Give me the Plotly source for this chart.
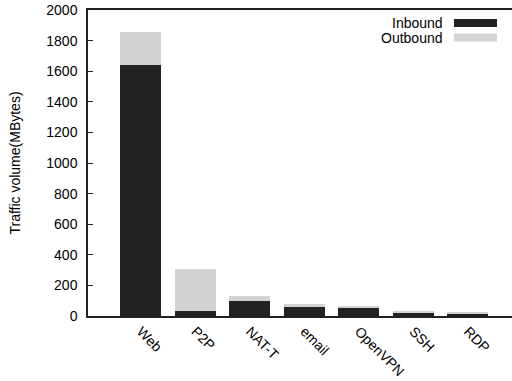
import plotly.graph_objects as go

# Traffic per application class, in MBytes
apps = ["Web", "P2P", "NAT-T", "email", "OpenVPN", "SSH", "RDP"]
inbound = [1640, 30, 95, 58, 55, 20, 16]
outbound = [216, 277, 33, 18, 12, 12, 10]
y_ticks = list(range(0, 2001, 200))

DARK = "#222222"
LIGHT = "#d3d3d3"
FONT = "Liberation Sans, Arial, Helvetica, sans-serif"

fig = go.Figure()
fig.add_trace(go.Bar(x=apps, y=inbound, name="Inbound",
                     marker=dict(color=DARK, line=dict(width=0))))
fig.add_trace(go.Bar(x=apps, y=outbound, name="Outbound",
                     marker=dict(color=LIGHT, line=dict(width=0))))

fig.update_layout(
    width=512, height=381,
    margin=dict(l=88, r=0, t=10, b=65),
    barmode="stack", bargap=0.25,
    showlegend=False,
    plot_bgcolor="white", paper_bgcolor="white",
    font=dict(family=FONT, size=14, color="#000000"),
    xaxis=dict(
        range=[-0.97, 6.81],
        showline=True, linecolor=DARK, linewidth=1.5, mirror=True,
        ticks="", tickangle=45, showgrid=False, zeroline=False,
        tickfont=dict(size=14),
    ),
    yaxis=dict(
        range=[0, 2000], tickvals=y_ticks,
        showline=True, linecolor=DARK, linewidth=1.5,
        ticks="inside", ticklen=5, tickwidth=1.2, tickcolor=DARK,
        ticklabelstandoff=6,
        showgrid=False, zeroline=False,
        title=dict(text="Traffic volume(MBytes)", font=dict(size=14), standoff=22),
    ),
    yaxis2=dict(
        range=[0, 2000], tickvals=y_ticks, overlaying="y", side="right",
        showticklabels=False, showline=False, showgrid=False, zeroline=False,
        ticks="inside", ticklen=3, tickwidth=1.2, tickcolor=DARK,
    ),
)

# Key in the top-right corner: label on the left, swatch on the right
key = [("Inbound", DARK, 23), ("Outbound", LIGHT, 37.5)]
for label, color, ypix in key:
    yc = 1 - (ypix - 10) / 306
    fig.add_annotation(text=label, xref="paper", yref="paper",
                       x=(445 - 88) / 424, y=yc, xanchor="right", yanchor="middle",
                       showarrow=False, font=dict(size=14, family=FONT))
    fig.add_shape(type="rect", xref="paper", yref="paper",
                  x0=(454 - 88) / 424, x1=(497 - 88) / 424,
                  y0=yc - 4 / 306, y1=yc + 4 / 306,
                  fillcolor=color, line=dict(width=0))

fig.write_html("out.html")
